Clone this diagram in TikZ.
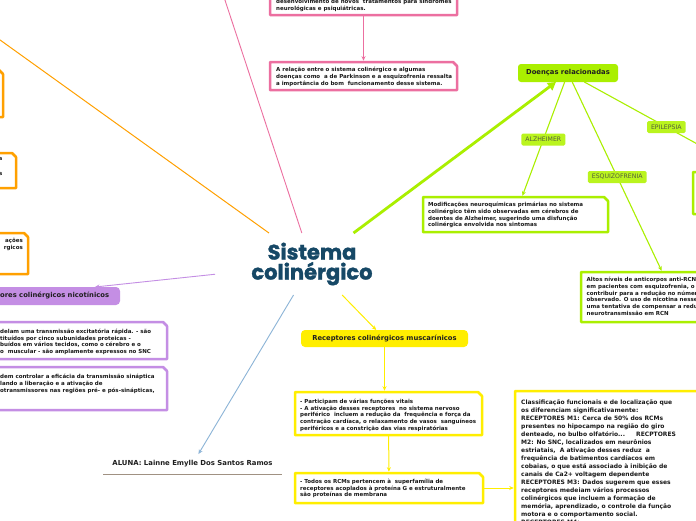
\documentclass[tikz,border=0pt]{standalone}
\usepackage{fontspec}
\setmainfont{DejaVu Sans}
\newfontfamily\titlefont{Poppins}[BoldFeatures={FakeBold=1.5}]
\usetikzlibrary{arrows.meta,calc}
\definecolor{cpink}{RGB}{236,111,160}
\definecolor{corange}{RGB}{255,160,0}
\definecolor{cpurple}{RGB}{196,142,228}
\definecolor{clime}{RGB}{170,239,0}
\definecolor{clabel}{RGB}{186,244,30}
\definecolor{clabeltext}{RGB}{85,95,60}
\definecolor{cyellow}{RGB}{255,238,0}
\definecolor{cblue}{RGB}{140,180,215}
\definecolor{ctitle}{RGB}{22,72,102}
\definecolor{cline}{RGB}{160,145,130}
\newcommand\chbox[2]{\draw[#2, line width=2.5pt, fill=white, line join=round] (#1.south west) -- (#1.north west) -- ([xshift=-4pt]#1.north east) -- ([yshift=-4pt]#1.north east) -- (#1.south east) -- cycle;}
\begin{document}
\begin{tikzpicture}[x=1pt,y=-1pt,
 bx/.style={rectangle, inner sep=0pt, outer sep=0pt},
 txt/.style={font=\bfseries\fontsize{5.5}{6.7}\selectfont, align=left, inner sep=0pt, anchor=north west, text=black!90},
 bigtxt/.style={font=\bfseries\fontsize{6}{8}\selectfont, align=left, inner sep=0pt, anchor=north west, text=black!90},
 mainlbl/.style={font=\bfseries\fontsize{6.8}{8}\selectfont, text=black!88},
 lab/.style={fill=clabel, text=clabeltext, font=\fontsize{6.2}{7}\selectfont, rounded corners=1.5pt, inner xsep=4pt, inner ysep=0pt, minimum height=12pt},
 arrw/.style={-{Stealth[length=4.5pt,width=4pt]}},
]
\useasboundingbox (0,0) rectangle (696,520);
\clip (0,0) rectangle (696,520);
\fill[white] (0,0) rectangle (696,520);

% nodes
\node[bx, minimum width=194pt, minimum height=62pt, align=center, text=ctitle, font=\titlefont\bfseries\fontsize{21}{20}\selectfont] (title) at (312,264) {Sistema\\colinérgico};
\node[bx, minimum width=187pt, minimum height=45pt] (ptop) at (363.5,-7.5) {};
\node[bx, minimum width=187pt, minimum height=28pt] (prel) at (363.5,76) {};
\node[bx, minimum width=103pt, minimum height=47pt] (o1) at (-48.5,93.5) {};
\node[bx, minimum width=116pt, minimum height=35pt] (o2) at (-42,170.5) {};
\node[bx, minimum width=128pt, minimum height=41pt] (o3) at (-36,253.5) {};
\node[bx, minimum width=220pt, minimum height=18pt, fill=cpurple, rounded corners=4pt] (pn) at (10,296) {};
\node[bx, minimum width=267pt, minimum height=37pt] (pa) at (33.5,340.5) {};
\node[bx, minimum width=267pt, minimum height=43pt] (pb) at (33.5,388.5) {};
\node[bx, minimum width=100pt, minimum height=18pt, fill=clime, rounded corners=3pt, mainlbl] (dn) at (568,73) {Doenças relacionadas};
\node[bx, minimum width=185pt, minimum height=35pt] (ab) at (515.5,214.5) {};
\node[bx, minimum width=186pt, minimum height=50pt] (eb) at (674,297) {};
\node[bx, minimum width=187pt, minimum height=42pt] (epb) at (786.5,193) {};
\node[bx, minimum width=167pt, minimum height=17pt, fill=cyellow, rounded corners=4pt, mainlbl] (ym) at (384.5,338.5) {Receptores colinérgicos muscarínicos};
\node[bx, minimum width=187pt, minimum height=43pt] (y1) at (388.5,413.5) {};
\node[bx, minimum width=188pt, minimum height=30pt] (y2) at (389,488) {};
\node[bx, minimum width=285pt, minimum height=194pt] (yl) at (657.5,488) {};
\node[bx, minimum width=179pt, minimum height=20pt, mainlbl, font=\bfseries\fontsize{6.9}{8}\selectfont] (aluna) at (192.5,464) {ALUNA: Lainne Emylle Dos Santos Ramos};

% connectors
\coordinate (orfar) at (-30,18.4);
\coordinate (pkfar) at (220,-15);
\draw[corange, line width=1pt] (title) -- (orfar);
\draw[cpink, line width=0.9pt] (title) -- (pkfar);
\draw[clime, line width=2.8pt, -{Triangle[length=8pt,width=9pt]}] (title) -- (dn);
\draw[cpurple, line width=0.9pt, arrw] (title) -- (pn);
\draw[cblue, line width=0.9pt, arrw] (title) -- (aluna);
\draw[cyellow, line width=1pt, arrw] (title) -- (ym);
\draw[cpink, line width=1pt, arrw, shorten >=1.3pt] (ptop) -- (prel);
\draw[clime, line width=1.1pt, arrw, shorten >=1.3pt] (dn) -- node[lab]{ALZHEIMER} (ab);
\draw[clime, line width=1.1pt, arrw, shorten >=1.3pt] (dn) -- node[lab]{ESQUIZOFRENIA} (eb);
\draw[clime, line width=1.1pt, arrw, shorten >=1.3pt] (dn) -- node[lab]{EPILEPSIA} (epb);
\draw[cyellow, line width=1pt, arrw, shorten >=1.3pt] (ym.south) -- (ym.south |- y1.north);
\draw[cyellow, line width=1pt, arrw, shorten >=1.3pt] (y1) -- (y2);
\draw[cyellow, line width=1pt, arrw, shorten >=1.3pt] (y2) -- (yl);

% box outlines
\chbox{ptop}{cpink}
\chbox{prel}{cpink}
\chbox{o1}{corange}
\chbox{o2}{corange}
\chbox{o3}{corange}
\chbox{pa}{cpurple}
\chbox{pb}{cpurple}
\chbox{ab}{clime}
\chbox{eb}{clime}
\chbox{epb}{clime}
\chbox{y1}{cyellow}
\chbox{y2}{cyellow}
\chbox{yl}{cyellow}
\draw[cline, line width=0.8pt] (aluna.south west) -- (aluna.south east);

% texts
\node[txt] (tptop) at (276,-1.1) {desenvolvimento de novos~ tratamentos para síndromes\\neurológicas e psiquiátricas.};
\node[txt] (tprel) at (276,67.2) {A relação entre o sistema colinérgico e algumas\\doenças como~ a de Parkinson e a esquizofrenia ressalta\\a importância do bom~ funcionamento desse sistema.};
\node[txt, anchor=north east] (to2a) at (2.5,157.5) {a};
\node[txt, anchor=north east] (to2b) at (2.5,172) {s};
\node[txt, anchor=north east, align=right] (to3) at (23,238.3) {ações\\rgicos};
\node[mainlbl, anchor=west, inner sep=0pt] (tpn) at (0,296) {ores colinérgicos nicotínicos};
\node[txt] (tpa) at (0,328.9) {delam uma transmissão excitatória rápida. - são\\tituídos por cinco subunidades proteicas -\\buídos em vários tecidos, como o cérebro e o\\o~ muscular - são amplamente expressos no SNC};
\node[txt] (tpb) at (0,374.2) {dem controlar a eficácia da transmissão sináptica\\lando a liberação e a ativação de\\otransmissores nas regiões pré- e pós-sinápticas,};
\node[txt] (tab) at (428,202.2) {Modificações neuroquímicas primárias no sistema\\colinérgico têm sido observadas em cérebros de\\doentes de Alzheimer, sugerindo uma disfunção\\colinérgica envolvida nos sintomas};
\node[txt] (teb) at (586.5,277.2) {Altos níveis de anticorpos anti-RCN\\em pacientes com esquizofrenia, o\\contribuir para a redução no númer\\observado. O uso de nicotina nesse\\uma tentativa de compensar a redu\\neurotransmissão em RCN};
\node[txt] (ty1) at (300,398.9) {- Participam de várias funções vitais\\- A ativação desses receptores~ no sistema nervoso\\periférico~ incluem a redução da~ frequência e força da\\contração cardíaca, o relaxamento de vasos~ sanguíneos\\periféricos e a constrição das vias respiratórias};
\node[txt] (ty2) at (300,478.9) {- Todos os RCMs pertencem à~ superfamília de\\receptores acoplados à proteína G e estruturalmente\\são proteínas de membrana};
\node[bigtxt] (tyl) at (521,399.3) {Classificação funcionais e de localização que\\os diferenciam significativamente:\\RECEPTORES M1: Cerca de 50\% dos RCMs\\presentes no hipocampo na região do giro\\denteado, no bulbo olfatório...~~~~ RECPTORES\\M2: No SNC, localizados em neurônios\\estriatais,~ A ativação desses reduz~ a\\frequência de batimentos cardíacos em\\cobaias, o que está associado à inibição de\\canais de Ca2+ voltagem dependente\\RECEPTORES M3: Dados sugerem que esses\\receptores medeiam vários processos\\colinérgicos que incluem a formação de\\memória, aprendizado, o controle da função\\motora e o comportamento social.\\RECEPTORES M4:};
\end{tikzpicture}
\end{document}
